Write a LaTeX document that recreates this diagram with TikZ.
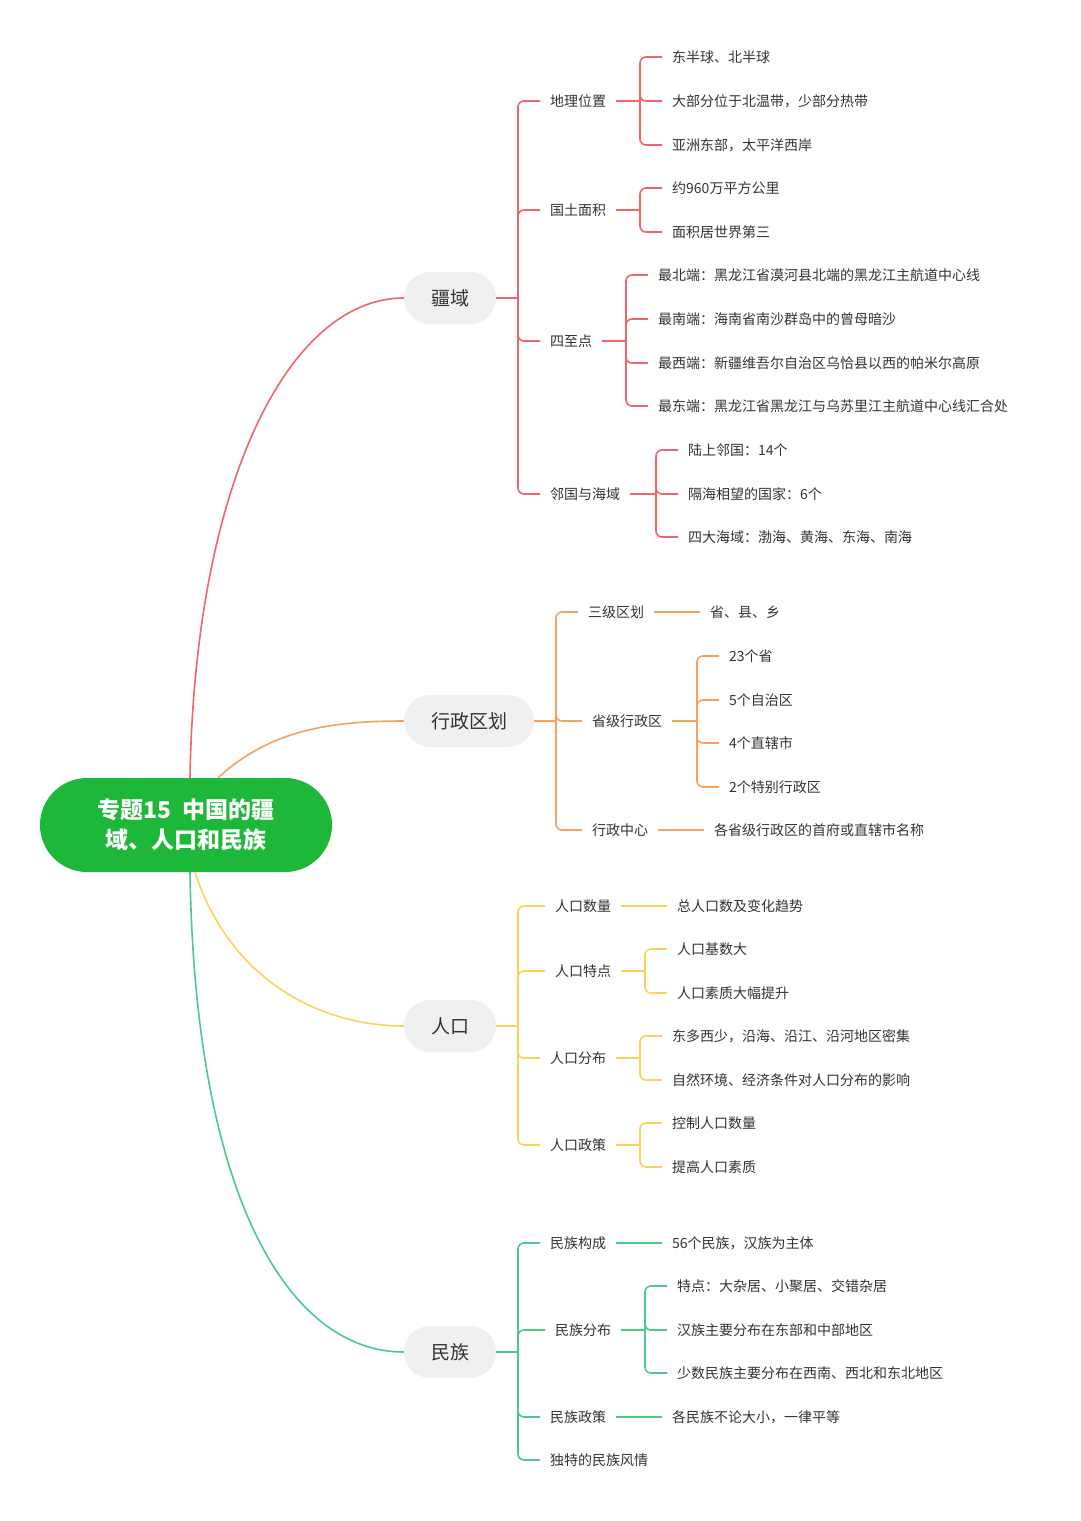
\documentclass[tikz,border=0pt]{standalone}
\usepackage{fontspec}
\setmainfont{Noto Sans CJK SC}
\begin{document}
\begin{tikzpicture}[x=1pt,y=-1pt,
  leaf/.style={anchor=west,inner xsep=10pt,inner ysep=2pt,text=txt,font=\fontsize{14}{16}\selectfont},
  mainnode/.style={fill=boxg,rounded corners=26pt,minimum height=52pt,inner xsep=14pt,text=txt,font=\fontsize{19}{22}\selectfont},
  rc/.style={rounded corners=6pt,line width=1.6pt},
  ln/.style={line width=1.6pt}]
\definecolor{txt}{HTML}{333333}
\definecolor{boxg}{HTML}{EEF0F2}
\definecolor{cR}{HTML}{F1646C}
\definecolor{cO}{HTML}{F6A25E}
\definecolor{cY}{HTML}{F9D45C}
\definecolor{cG}{HTML}{4CC98A}
\definecolor{rootg}{HTML}{1DB83A}
\useasboundingbox (0,0) rectangle (1080,1521);

\node[fill=rootg,rounded corners=47pt,minimum width=292pt,minimum height=94pt,text=white,font=\bfseries\fontsize{23}{30}\selectfont,align=center] (root) at (186,825) {专题15\ \ 中国的疆\\域、人口和民族};

\node[mainnode,minimum width=92pt] (b1) at (450,298) {疆域};
\node[mainnode,minimum width=130pt] (b2) at (469,721) {行政区划};
\node[mainnode,minimum width=92pt] (b3) at (450,1026) {人口};
\node[mainnode,minimum width=92pt] (b4) at (450,1352) {民族};

\draw[ln,cR] ([xshift=4pt]root.north) .. controls (195,480) and (290,298) .. (b1.west);
\draw[ln,cO] ([xshift=32pt]root.north) .. controls (270,730) and (330,721) .. (b2.west);
\draw[ln,cY] ([xshift=9pt]root.south) .. controls (230,980) and (320,1026) .. (b3.west);
\draw[ln,cG] ([xshift=4pt]root.south) .. controls (195,1200) and (290,1352) .. (b4.west);

% ===== 疆域 =====
\node[leaf] (a1) at (540,101) {地理位置};
\node[leaf] (a2) at (540,210) {国土面积};
\node[leaf] (a3) at (540,341) {四至点};
\node[leaf] (a4) at (540,494) {邻国与海域};
\coordinate (ja) at (518,298);
\draw[ln,cR] (b1.east) -- (ja);
\foreach \c in {a1,a2,a3,a4} \draw[rc,cR] (ja) |- (\c.west);

\node[leaf] (a11) at (662,57) {东半球、北半球};
\node[leaf] (a12) at (662,101) {大部分位于北温带，少部分热带};
\node[leaf] (a13) at (662,145) {亚洲东部，太平洋西岸};
\coordinate (ja1) at (640,101);
\draw[ln,cR] (a1.east) -- (ja1);
\foreach \c in {a11,a12,a13} \draw[rc,cR] (ja1) |- (\c.west);

\node[leaf] (a21) at (662,188) {约960万平方公里};
\node[leaf] (a22) at (662,232) {面积居世界第三};
\coordinate (ja2) at (640,210);
\draw[ln,cR] (a2.east) -- (ja2);
\foreach \c in {a21,a22} \draw[rc,cR] (ja2) |- (\c.west);

\node[leaf] (a31) at (648,275) {最北端：黑龙江省漠河县北端的黑龙江主航道中心线};
\node[leaf] (a32) at (648,319) {最南端：海南省南沙群岛中的曾母暗沙};
\node[leaf] (a33) at (648,363) {最西端：新疆维吾尔自治区乌恰县以西的帕米尔高原};
\node[leaf] (a34) at (648,406) {最东端：黑龙江省黑龙江与乌苏里江主航道中心线汇合处};
\coordinate (ja3) at (626,341);
\draw[ln,cR] (a3.east) -- (ja3);
\foreach \c in {a31,a32,a33,a34} \draw[rc,cR] (ja3) |- (\c.west);

\node[leaf] (a41) at (678,450) {陆上邻国：14个};
\node[leaf] (a42) at (678,494) {隔海相望的国家：6个};
\node[leaf] (a43) at (678,537) {四大海域：渤海、黄海、东海、南海};
\coordinate (ja4) at (656,494);
\draw[ln,cR] (a4.east) -- (ja4);
\foreach \c in {a41,a42,a43} \draw[rc,cR] (ja4) |- (\c.west);

% ===== 行政区划 =====
\node[leaf] (c1) at (578,612) {三级区划};
\node[leaf] (c2) at (582,721) {省级行政区};
\node[leaf] (c3) at (582,830) {行政中心};
\coordinate (jc) at (556,721);
\draw[ln,cO] (b2.east) -- (jc);
\foreach \c in {c1,c2,c3} \draw[rc,cO] (jc) |- (\c.west);
\node[leaf] (c11) at (700,612) {省、县、乡};
\draw[ln,cO] (c1.east) -- (c11.west);
\node[leaf] (c31) at (704,830) {各省级行政区的首府或直辖市名称};
\draw[ln,cO] (c3.east) -- (c31.west);
\node[leaf] (c21) at (719,656) {23个省};
\node[leaf] (c22) at (719,700) {5个自治区};
\node[leaf] (c23) at (719,743) {4个直辖市};
\node[leaf] (c24) at (719,787) {2个特别行政区};
\coordinate (jc2) at (697,721);
\draw[ln,cO] (c2.east) -- (jc2);
\foreach \c in {c21,c22,c23,c24} \draw[rc,cO] (jc2) |- (\c.west);

% ===== 人口 =====
\node[leaf] (d1) at (545,906) {人口数量};
\node[leaf] (d2) at (545,971) {人口特点};
\node[leaf] (d3) at (540,1058) {人口分布};
\node[leaf] (d4) at (540,1145) {人口政策};
\coordinate (jd) at (518,1026);
\draw[ln,cY] (b3.east) -- (jd);
\foreach \c in {d1,d2,d3,d4} \draw[rc,cY] (jd) |- (\c.west);
\node[leaf] (d11) at (667,906) {总人口数及变化趋势};
\draw[ln,cY] (d1.east) -- (d11.west);
\node[leaf] (d21) at (667,949) {人口基数大};
\node[leaf] (d22) at (667,993) {人口素质大幅提升};
\coordinate (jd2) at (645,971);
\draw[ln,cY] (d2.east) -- (jd2);
\foreach \c in {d21,d22} \draw[rc,cY] (jd2) |- (\c.west);
\node[leaf] (d31) at (662,1036) {东多西少，沿海、沿江、沿河地区密集};
\node[leaf] (d32) at (662,1080) {自然环境、经济条件对人口分布的影响};
\coordinate (jd3) at (640,1058);
\draw[ln,cY] (d3.east) -- (jd3);
\foreach \c in {d31,d32} \draw[rc,cY] (jd3) |- (\c.west);
\node[leaf] (d41) at (662,1123) {控制人口数量};
\node[leaf] (d42) at (662,1167) {提高人口素质};
\coordinate (jd4) at (640,1145);
\draw[ln,cY] (d4.east) -- (jd4);
\foreach \c in {d41,d42} \draw[rc,cY] (jd4) |- (\c.west);

% ===== 民族 =====
\node[leaf] (e1) at (540,1243) {民族构成};
\node[leaf] (e2) at (545,1330) {民族分布};
\node[leaf] (e3) at (540,1417) {民族政策};
\node[leaf] (e4) at (540,1460) {独特的民族风情};
\coordinate (je) at (518,1352);
\draw[ln,cG] (b4.east) -- (je);
\foreach \c in {e1,e2,e3,e4} \draw[rc,cG] (je) |- (\c.west);
\node[leaf] (e11) at (662,1243) {56个民族，汉族为主体};
\draw[ln,cG] (e1.east) -- (e11.west);
\node[leaf] (e31) at (662,1417) {各民族不论大小，一律平等};
\draw[ln,cG] (e3.east) -- (e31.west);
\node[leaf] (e21) at (667,1286) {特点：大杂居、小聚居、交错杂居};
\node[leaf] (e22) at (667,1330) {汉族主要分布在东部和中部地区};
\node[leaf] (e23) at (667,1373) {少数民族主要分布在西南、西北和东北地区};
\coordinate (je2) at (645,1330);
\draw[ln,cG] (e2.east) -- (je2);
\foreach \c in {e21,e22,e23} \draw[rc,cG] (je2) |- (\c.west);
\end{tikzpicture}
\end{document}
